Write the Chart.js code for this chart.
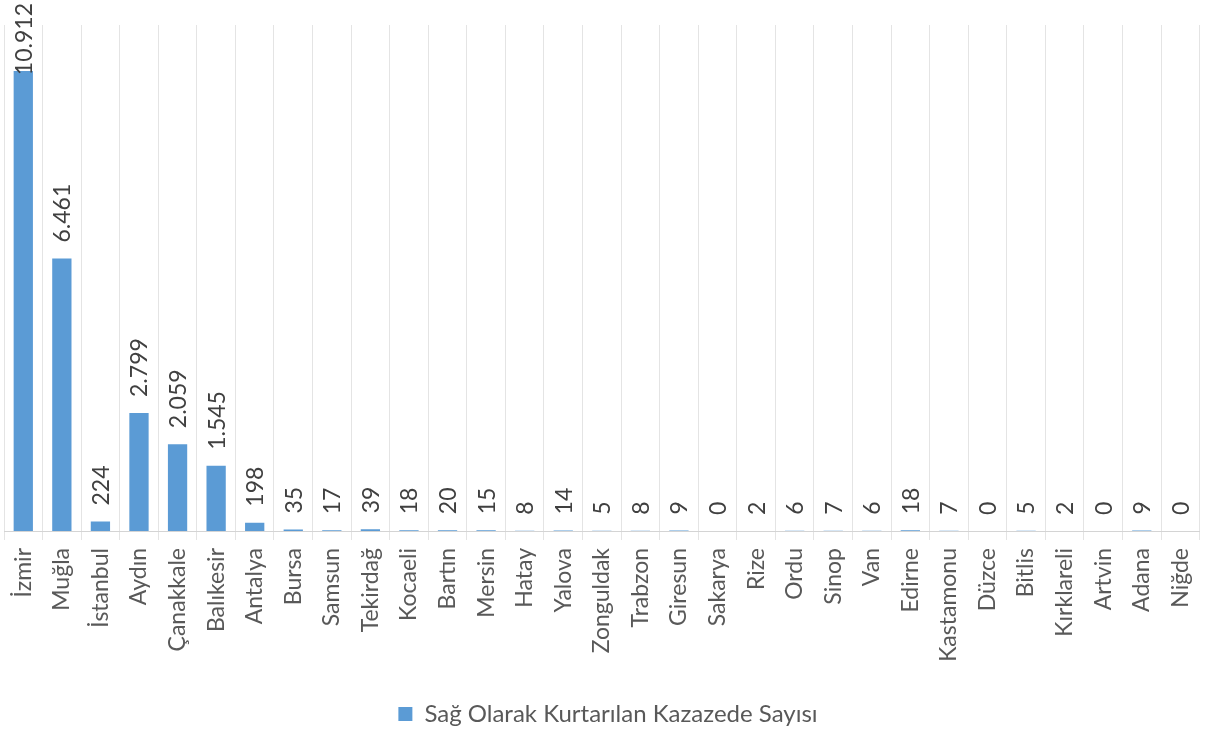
<!DOCTYPE html>
<html>
<head>
<meta charset="utf-8">
<script src="https://cdn.jsdelivr.net/npm/chart.js@4/dist/chart.umd.min.js"></script>
<style>
  html, body { margin: 0; padding: 0; background: #ffffff; }
  #wrap { width: 1216px; height: 729px; position: relative; }
</style>
</head>
<body>
<div id="wrap"><canvas id="c" width="1216" height="729"></canvas></div>
<script>
const categories = ["İzmir","Muğla","İstanbul","Aydın","Çanakkale","Balıkesir","Antalya","Bursa","Samsun","Tekirdağ","Kocaeli","Bartın","Mersin","Hatay","Yalova","Zonguldak","Trabzon","Giresun","Sakarya","Rize","Ordu","Sinop","Van","Edirne","Kastamonu","Düzce","Bitlis","Kırklareli","Artvin","Adana","Niğde"];
const values = [10912,6461,224,2799,2059,1545,198,35,17,39,18,20,15,8,14,5,8,9,0,2,6,7,6,18,7,0,5,2,0,9,0];
const seriesName = "Sağ Olarak Kurtarılan Kazazede Sayısı";
const yMax = 12000;

function fmt(v){ return String(v).replace(/\B(?=(\d{3})+(?!\d))/g, '.'); }

const FONT = 'Lato';
const valueLabels = {
  id: 'valueLabels',
  afterDatasetsDraw(chart){
    const ctx = chart.ctx;
    const meta = chart.getDatasetMeta(0);
    ctx.save();
    ctx.font = '23px ' + FONT;
    ctx.fillStyle = '#404040';
    ctx.textBaseline = 'middle';
    ctx.textAlign = 'left';
    meta.data.forEach((bar, i) => {
      const txt = fmt(values[i]);
      const w = ctx.measureText(txt).width;
      let start = bar.y - 16;
      if (start - w < 3) start = 3 + w;
      ctx.save();
      ctx.translate(bar.x + 1, start);
      ctx.rotate(-Math.PI / 2);
      ctx.fillText(txt, 0, 0);
      ctx.restore();
    });
    ctx.restore();
  }
};

function draw(){
  new Chart(document.getElementById('c'), {
    type: 'bar',
    data: {
      labels: categories,
      datasets: [{
        label: seriesName,
        data: values,
        backgroundColor: '#5B9BD5',
        borderWidth: 0,
        categoryPercentage: 1.0,
        barPercentage: 0.5
      }]
    },
    options: {
      responsive: false,
      animation: false,
      devicePixelRatio: 1,
      layout: { padding: { top: 25, left: 4, right: 4, bottom: -7 } },
      plugins: {
        legend: {
          position: 'bottom',
          labels: {
            boxWidth: 14, boxHeight: 14, padding: 4,
            color: '#595959',
            font: { family: FONT, size: 24 }
          }
        },
        tooltip: { enabled: false }
      },
      scales: {
        x: {
          offset: true,
          grid: { display: true, offset: true, color: '#e4e4e4', lineWidth: 1, tickLength: 9, drawOnChartArea: true },
          border: { display: true, color: '#d4d4d4', width: 1 },
          ticks: {
            autoSkip: false, minRotation: 90, maxRotation: 90,
            color: '#595959', padding: 8,
            font: { family: FONT, size: 23 }
          },
          afterFit(scale){ scale.height = 167; }
        },
        y: {
          display: false,
          min: 0, max: yMax
        }
      }
    },
    plugins: [valueLabels]
  });
}

if (document.fonts && document.fonts.load) {
  document.fonts.load('23px ' + FONT).then(draw, draw);
} else { draw(); }
</script>
</body>
</html>
